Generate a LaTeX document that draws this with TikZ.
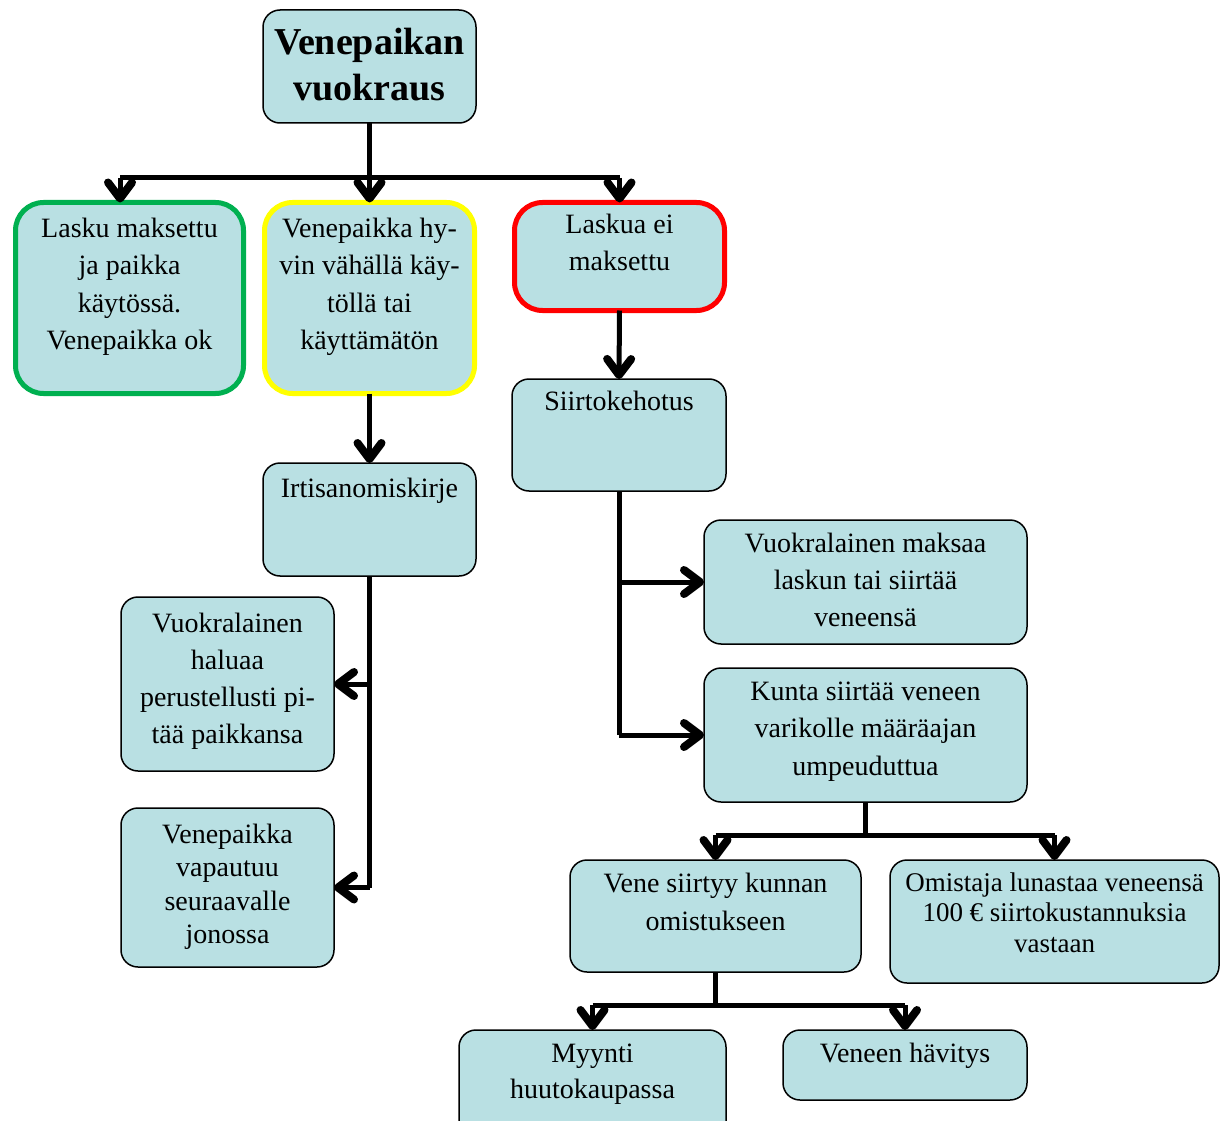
\documentclass[tikz,border=0pt]{standalone}
\usepackage{fontspec}
\setmainfont{Liberation Serif}
\usetikzlibrary{arrows.meta}
\definecolor{boxfill}{HTML}{B9E0E3}
\definecolor{okgreen}{HTML}{00B050}
\definecolor{warnyellow}{HTML}{FFFF00}
\definecolor{badred}{HTML}{FF0000}
\tikzset{
  box/.style={draw=black, line width=1.5pt, fill=boxfill, rounded corners=17pt, inner sep=0pt, outer sep=0pt, anchor=north west},
  cbox/.style={box, line width=5pt, rounded corners=28pt},
  txt/.style={anchor=base, align=center, inner sep=0pt, font=\fontsize{28}{37.5}\selectfont},
  conn/.style={line width=5pt},
  arr/.style={line width=5pt, -{Straight Barb[length=16pt,width=24pt,line width=8pt,round]}},
}
\begin{document}
\begin{tikzpicture}[x=1pt,y=-1pt]
\useasboundingbox (0,0) rectangle (1227,1121);
% boxes
\node[box, minimum width=213pt, minimum height=113pt] (title) at (263,10) {};
\node[cbox, draw=okgreen, minimum width=228pt, minimum height=191pt] (green) at (15.5,202.5) {};
\node[cbox, draw=warnyellow, minimum width=210pt, minimum height=191pt] (yellow) at (264.5,202.5) {};
\node[cbox, draw=badred, minimum width=210pt, minimum height=108pt] (red) at (514.5,202.5) {};
\node[box, minimum width=214pt, minimum height=112pt] (siirto) at (512,379) {};
\node[box, minimum width=213pt, minimum height=113pt] (irtis) at (263,463) {};
\node[box, minimum width=213pt, minimum height=174pt] (haluaa) at (121,597) {};
\node[box, minimum width=213pt, minimum height=159pt] (vapautuu) at (121,808) {};
\node[box, minimum width=323pt, minimum height=124pt] (maksaa) at (704,520) {};
\node[box, minimum width=323pt, minimum height=134pt] (kunta) at (704,668) {};
\node[box, minimum width=291pt, minimum height=112pt] (vene) at (570,860) {};
\node[box, minimum width=329pt, minimum height=123pt] (omist) at (890,860) {};
\node[box, minimum width=267pt, minimum height=110pt] (myynti) at (459,1030) {};
\node[box, minimum width=244pt, minimum height=70pt] (havitys) at (783,1030) {};
% texts (anchored at the baseline of their last line)
\node[txt, font=\bfseries\fontsize{38}{46}\selectfont] (titleT) at (369.5,101) {Venepaikan\\vuokraus};
\node[txt] (greenT) at (129.5,349.5) {Lasku maksettu\\ja paikka\\käytössä.\\Venepaikka ok};
\node[txt] (yellowT) at (369.5,349.5) {Venepaikka hy-\\vin vähällä käy-\\töllä tai\\käyttämätön};
\node[txt] (redT) at (619.5,270.5) {Laskua ei\\maksettu};
\node[txt] (siirtoT) at (619,410) {Siirtokehotus};
\node[txt] (irtisT) at (369.5,497) {Irtisanomiskirje};
\node[txt, font=\fontsize{28}{37}\selectfont] (haluaaT) at (227.5,743) {Vuokralainen\\haluaa\\perustellusti pi-\\tää paikkansa};
\node[txt, font=\fontsize{28}{33.5}\selectfont] (vapautuuT) at (227.5,943.5) {Venepaikka\\vapautuu\\seuraavalle\\jonossa};
\node[txt, font=\fontsize{28}{37}\selectfont] (maksaaT) at (865.5,626) {Vuokralainen maksaa\\laskun tai siirtää\\veneensä};
\node[txt, font=\fontsize{28}{37.5}\selectfont] (kuntaT) at (865.5,775) {Kunta siirtää veneen\\varikolle määräajan\\umpeuduttua};
\node[txt, font=\fontsize{28}{38}\selectfont] (veneT) at (715.5,930) {Vene siirtyy kunnan\\omistukseen};
\node[txt, font=\fontsize{27}{30.5}\selectfont] (omistT) at (1054.5,952) {Omistaja lunastaa veneensä\\100 € siirtokustannuksia\\vastaan};
\node[txt, font=\fontsize{28}{36}\selectfont] (myyntiT) at (592.5,1098) {Myynti\\huutokaupassa};
\node[txt] (havitysT) at (905,1062) {Veneen hävitys};
% connectors
\coordinate (bar1L) at (120,178);
\coordinate (bar1R) at (red.north |- bar1L);
\draw[conn] (title.south) -- (title.south |- bar1L);
\draw[conn] (bar1L) -- (bar1R);
\draw[arr] (bar1L) -- (bar1L |- green.north);
\draw[arr] (title.south |- bar1L) -- (yellow.north);
\draw[arr] (bar1R) -- (red.north);
\draw[arr] (yellow.south) -- (irtis.north);
\draw[arr] (red.south) -- (siirto.north);
\draw[conn] (irtis.south) -- (irtis.south |- vapautuu.east) coordinate (irtisEnd);
\draw[arr] (irtis.south |- haluaa.east) -- (haluaa.east);
\draw[arr] (irtisEnd) -- (vapautuu.east);
\draw[conn] (siirto.south) -- (siirto.south |- kunta.west) coordinate (siirtoEnd);
\draw[arr] (siirto.south |- maksaa.west) -- (maksaa.west);
\draw[arr] (siirtoEnd) -- (kunta.west);
\coordinate (bar2) at (kunta.south |- 0,835);
\draw[conn] (kunta.south) -- (bar2);
\draw[conn] (vene.north |- bar2) -- (omist.north |- bar2);
\draw[arr] (vene.north |- bar2) -- (vene.north);
\draw[arr] (omist.north |- bar2) -- (omist.north);
\coordinate (bar3) at (vene.south |- 0,1005);
\draw[conn] (vene.south) -- (bar3);
\draw[conn] (myynti.north |- bar3) -- (havitys.north |- bar3);
\draw[arr] (myynti.north |- bar3) -- (myynti.north);
\draw[arr] (havitys.north |- bar3) -- (havitys.north);
\end{tikzpicture}
\end{document}
